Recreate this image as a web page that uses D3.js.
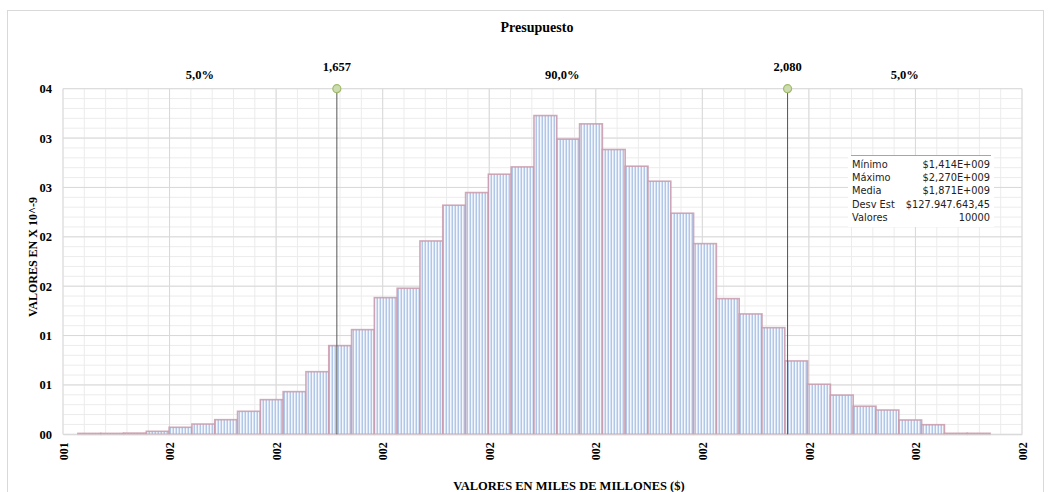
<!DOCTYPE html>
<html>
<head>
<meta charset="utf-8">
<script src="https://cdn.jsdelivr.net/npm/d3@7"></script>
<style>
  body { margin: 0; background: #fff; }
  svg text { font-family: "Liberation Serif", "Times New Roman", serif; }
</style>
</head>
<body>
<div class="histChart"></div>
<script>
// histogram densities (x 10^-9), 40 bins between min and max
const binMin = 1.414;
const binMax = 2.270;
const densities = [
  0.009, 0.009, 0.012, 0.030, 0.071, 0.104, 0.148, 0.233, 0.351, 0.432,
  0.634, 0.898, 1.060, 1.384, 1.479, 1.958, 2.320, 2.448, 2.634, 2.708,
  3.228, 2.989, 3.144, 2.884, 2.715, 2.563, 2.239, 1.931, 1.374, 1.219,
  1.080, 0.743, 0.507, 0.397, 0.284, 0.246, 0.145, 0.097, 0.010, 0.010
];
const xTicks = [1.4, 1.5, 1.6, 1.7, 1.8, 1.9, 2.0, 2.1, 2.2, 2.3];
const xTickLabels = ['001', '002', '002', '002', '002', '002', '002', '002', '002', '002'];
const yTicks = [0, 0.5, 1, 1.5, 2, 2.5, 3, 3.5];
const yTickLabels = ['00', '01', '01', '02', '02', '03', '03', '04'];
const percentiles = [1.657, 2.080];
const percentileLabels = ['1,657', '2,080'];
const regionLabels = ['5,0%', '90,0%', '5,0%'];
const statNames = ['Mínimo', 'Máximo', 'Media', 'Desv Est', 'Valores'];
const statValues = ['$1,414E+009', '$2,270E+009', '$1,871E+009', '$127.947.643,45', '10000'];

const W = 1051, H = 492;
const margin = { top: 88.7, right: 29, bottom: 57.7, left: 63 };
const width = W - margin.left - margin.right;
const height = H - margin.top - margin.bottom;

const xScale = d3.scaleLinear().domain([1.4, 2.3]).range([0, width]);
const yScale = d3.scaleLinear().domain([0, 3.5]).range([height, 0]);

const svgRoot = d3.select('.histChart').append('svg')
  .attr('width', W).attr('height', H);

// stripe pattern for the bars
const defs = svgRoot.append('defs');
const pat = defs.append('pattern')
  .attr('id', 'stripes')
  .attr('patternUnits', 'userSpaceOnUse')
  .attr('width', 3).attr('height', 10);
pat.append('rect').attr('width', 3).attr('height', 10).attr('fill', '#d6e2f3');
pat.append('rect').attr('x', 0).attr('width', 1).attr('height', 10).attr('fill', '#f4f7fc');
pat.append('rect').attr('x', 2).attr('width', 0.8).attr('height', 10).attr('fill', '#a8c0e4');

// outer chart border
svgRoot.append('rect')
  .attr('x', 7.5).attr('y', 10.5).attr('width', 1036).attr('height', 490)
  .attr('fill', 'none').attr('stroke', '#d9d9d9');

const svg = svgRoot.append('g')
  .attr('transform', `translate(${margin.left},${margin.top})`);

// grid
const minorY = d3.range(0, 3.501, 0.1);
const minorX = d3.range(1.4, 2.3001, 0.02);
svg.append('g').selectAll('line').data(minorY).enter().append('line')
  .attr('x1', 0).attr('x2', width)
  .attr('y1', d => yScale(d)).attr('y2', d => yScale(d))
  .attr('stroke', '#ececec');
svg.append('g').selectAll('line').data(minorX).enter().append('line')
  .attr('y1', 0).attr('y2', height)
  .attr('x1', d => xScale(d)).attr('x2', d => xScale(d))
  .attr('stroke', '#ececec');
svg.append('g').selectAll('line').data(yTicks).enter().append('line')
  .attr('x1', 0).attr('x2', width)
  .attr('y1', d => yScale(d)).attr('y2', d => yScale(d))
  .attr('stroke', '#d9d9d9');
svg.append('g').selectAll('line').data(xTicks).enter().append('line')
  .attr('y1', 0).attr('y2', height)
  .attr('x1', d => xScale(d)).attr('x2', d => xScale(d))
  .attr('stroke', '#d9d9d9');

// bars
const binW = (binMax - binMin) / densities.length;
svg.append('g').selectAll('rect').data(densities).enter().append('rect')
  .attr('x', (d, i) => xScale(binMin + i * binW))
  .attr('y', d => yScale(d))
  .attr('width', xScale(binMin + binW) - xScale(binMin))
  .attr('height', d => height - yScale(d))
  .attr('fill', 'url(#stripes)')
  .attr('stroke', '#c99aab')
  .attr('stroke-opacity', 0.85)
  .attr('stroke-width', 1.6);

// axes
svg.append('g')
  .attr('transform', `translate(0,${height})`)
  .call(d3.axisBottom(xScale).tickValues(xTicks).tickSize(0).tickPadding(0)
    .tickFormat((d, i) => xTickLabels[i]))
  .call(g => g.select('.domain').attr('stroke', '#d9d9d9'))
  .selectAll('text')
  .attr('transform', 'rotate(-90)')
  .attr('x', -8).attr('y', 0).attr('dy', '0.35em')
  .attr('text-anchor', 'end')
  .style('font-family', '"Liberation Serif", serif')
  .style('font-weight', 'bold').style('font-size', '12px').attr('fill', '#000');

svg.append('g')
  .call(d3.axisLeft(yScale).tickValues(yTicks).tickSize(0).tickPadding(11)
    .tickFormat((d, i) => yTickLabels[i]))
  .call(g => g.select('.domain').remove())
  .selectAll('text')
  .style('font-family', '"Liberation Serif", serif')
  .style('font-weight', 'bold').style('font-size', '12.5px').attr('fill', '#000');

// percentile markers
svg.append('g').selectAll('line').data(percentiles).enter().append('line')
  .attr('x1', d => xScale(d)).attr('x2', d => xScale(d))
  .attr('y1', 0).attr('y2', height)
  .attr('stroke', '#555').attr('stroke-width', 1);
svg.append('g').selectAll('circle').data(percentiles).enter().append('circle')
  .attr('cx', d => xScale(d)).attr('cy', 0).attr('r', 4)
  .attr('fill', '#cddcae').attr('stroke', '#9fbb6a').attr('stroke-width', 1.2);
svg.append('g').selectAll('text').data(percentiles).enter().append('text')
  .attr('x', d => xScale(d)).attr('y', -18)
  .attr('text-anchor', 'middle')
  .style('font-weight', 'bold').style('font-size', '12.5px')
  .text((d, i) => percentileLabels[i]);

const regionEdges = [1.4, percentiles[0], percentiles[1], 2.3];
svg.append('g').selectAll('text').data(regionLabels).enter().append('text')
  .attr('x', (d, i) => (xScale(regionEdges[i]) + xScale(regionEdges[i + 1])) / 2)
  .attr('y', -10)
  .attr('text-anchor', 'middle')
  .style('font-weight', 'bold').style('font-size', '12.5px')
  .text(d => d);

// stats box
const box = svgRoot.append('g').attr('transform', 'translate(848,155)');
box.append('rect').attr('x', 0).attr('y', 0).attr('width', 146).attr('height', 72)
  .attr('fill', '#fff');
box.append('line').attr('x1', 3).attr('x2', 143).attr('y1', 0.5).attr('y2', 0.5)
  .attr('stroke', '#a6a6a6');
box.selectAll('.sname').data(statNames).enter().append('text')
  .attr('x', 4).attr('y', (d, i) => 12.5 + i * 13.4)
  .style('font-family', '"DejaVu Sans", Verdana, sans-serif')
  .style('font-size', '9.8px').attr('fill', '#222')
  .text(d => d);
box.selectAll('.sval').data(statValues).enter().append('text')
  .attr('x', 142).attr('y', (d, i) => 12.5 + i * 13.4)
  .attr('text-anchor', 'end')
  .style('font-family', '"DejaVu Sans", Verdana, sans-serif')
  .style('font-size', '9.8px').attr('fill', '#222')
  .text(d => d);

// titles
svgRoot.append('text')
  .attr('x', 537).attr('y', 32).attr('text-anchor', 'middle')
  .style('font-weight', 'bold').style('font-size', '14px')
  .text('Presupuesto');
svgRoot.append('text')
  .attr('transform', 'translate(37,257) rotate(-90)')
  .attr('text-anchor', 'middle')
  .style('font-weight', 'bold').style('font-size', '12px')
  .text('VALORES EN X 10^-9');
svgRoot.append('text')
  .attr('x', 569).attr('y', 490).attr('text-anchor', 'middle')
  .style('font-weight', 'bold').style('font-size', '12.5px')
  .text('VALORES EN MILES DE MILLONES ($)');
</script>
</body>
</html>
